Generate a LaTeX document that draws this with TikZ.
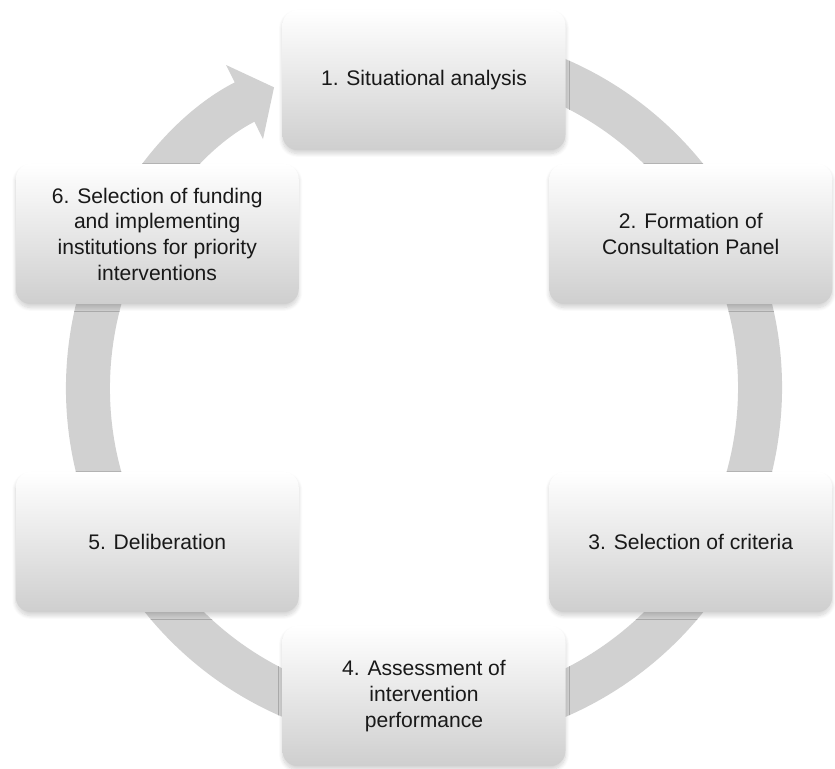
\documentclass[tikz,border=0pt]{standalone}
\usepackage{fontspec}
\setmainfont{Liberation Sans}
\usetikzlibrary{arrows.meta,shadows.blur}

\begin{document}
\begin{tikzpicture}[
		ring/.style={line width=0.88cm, draw=black!18, -{Triangle[width=1.62cm,length=0.66cm]}},
		stage/.style={rectangle, rounded corners=0.3cm, minimum width=5.66cm, minimum height=2.8cm,
			align=center, top color=white, bottom color=black!19, text=black!90,
			font=\fontsize{12}{14.6}\selectfont,
			blur shadow={shadow xshift=0pt, shadow yshift=-0.07cm, shadow opacity=18, shadow blur radius=0.08cm, shadow blur steps=8}}
	]
		\useasboundingbox (0,0) rectangle (16.7,15.38);

		\coordinate (c) at (8.48,7.62);
		\draw[ring] (c) ++(80:6.72) arc[start angle=80, end angle=-243.5, radius=6.72];

		\node[stage] (s1) at (8.48,13.78) {1. Situational analysis};
		\node[stage] (s2) at (13.815,10.70) {2. Formation of\\Consultation Panel};
		\node[stage] (s3) at (13.815,4.54) {3. Selection of criteria};
		\node[stage] (s4) at (8.48,1.46) {4. Assessment of\\intervention\\performance};
		\node[stage] (s5) at (3.145,4.54) {5. Deliberation};
		\node[stage] (s6) at (3.145,10.70) {6. Selection of funding\\and implementing\\institutions for priority\\interventions};

	\end{tikzpicture}
\end{document}
